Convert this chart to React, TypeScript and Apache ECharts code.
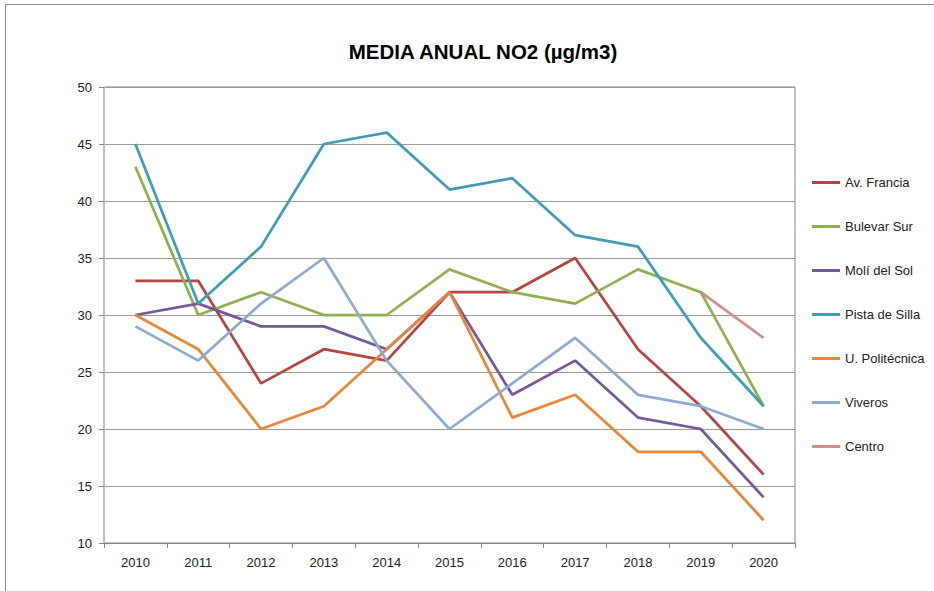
import React, { useEffect, useRef } from "react";
import * as echarts from "echarts";

const years = ["2010", "2011", "2012", "2013", "2014", "2015", "2016", "2017", "2018", "2019", "2020"];
const avFrancia = [33, 33, 24, 27, 26, 32, 32, 35, 27, 22, 16];
const bulevarSur = [43, 30, 32, 30, 30, 34, 32, 31, 34, 32, 22];
const moliDelSol = [30, 31, 29, 29, 27, 32, 23, 26, 21, 20, 14];
const pistaDeSilla = [45, 31, 36, 45, 46, 41, 42, 37, 36, 28, 22];
const uPolitecnica = [30, 27, 20, 22, 27, 32, 21, 23, 18, 18, 12];
const viveros = [29, 26, 31, 35, 26, 20, 24, 28, 23, 22, 20];
const centro = [null, null, null, null, null, null, null, null, null, 32, 28];

const seriesDefs = [
  { name: "Av. Francia", data: avFrancia, color: "#B44643" },
  { name: "Bulevar Sur", data: bulevarSur, color: "#8EB14F" },
  { name: "Molí del Sol", data: moliDelSol, color: "#765A98" },
  { name: "Pista de Silla", data: pistaDeSilla, color: "#3F9DB8" },
  { name: "U. Politécnica", data: uPolitecnica, color: "#E8873A" },
  { name: "Viveros", data: viveros, color: "#8FAAD2" },
  { name: "Centro", data: centro, color: "#D38E8C" },
];

export default function App() {
  const ref = useRef<HTMLDivElement>(null);
  useEffect(() => {
    if (!ref.current) return;
    const chart = echarts.init(ref.current, null, { renderer: "svg" });
    const font = "'Liberation Sans', Arial, sans-serif";
    chart.setOption({
      animation: false,
      backgroundColor: "#ffffff",
      textStyle: { fontFamily: font },
      title: {
        text: "MEDIA ANUAL NO2 (µg/m3)",
        left: 478,
        textAlign: "center",
        top: 36,
        textStyle: { fontFamily: font, fontSize: 20.5, fontWeight: "bold", color: "#000" },
      },
      graphic: [
        {
          type: "rect",
          shape: { x: 5.5, y: 4.5, width: 1000, height: 700 },
          style: { fill: "none", stroke: "#8c8c8c", lineWidth: 1 },
          silent: true,
        },
      ],
      legend: {
        orient: "vertical",
        left: 812,
        top: 176,
        padding: 0,
        icon: "rect",
        itemWidth: 28,
        itemHeight: 3,
        itemGap: 31,
        textStyle: { fontFamily: font, fontSize: 13, color: "#222" },
        data: seriesDefs.map((s) => s.name),
      },
      grid: {
        left: 104,
        top: 87,
        right: 139,
        bottom: 48,
        show: true,
        borderColor: "#868686",
        borderWidth: 1,
      },
      xAxis: {
        type: "category",
        data: years,
        boundaryGap: true,
        axisLine: { lineStyle: { color: "#868686" } },
        axisTick: { show: true, length: 5, interval: 0, lineStyle: { color: "#868686" } },
        axisLabel: { fontFamily: font, fontSize: 13, color: "#222", margin: 13 },
      },
      yAxis: {
        type: "value",
        min: 10,
        max: 50,
        interval: 5,
        axisLine: { show: true, lineStyle: { color: "#bfbfbf" } },
        axisTick: { show: true, length: 5, lineStyle: { color: "#868686" } },
        axisLabel: { fontFamily: font, fontSize: 13, color: "#222", margin: 12 },
        splitLine: { lineStyle: { color: "#999999" } },
      },
      series: seriesDefs.map((s) => ({
        name: s.name,
        type: "line",
        data: s.data,
        symbol: "none",
        color: s.color,
        lineStyle: { width: 2.75, color: s.color },
        connectNulls: false,
      })),
    });
    return () => chart.dispose();
  }, []);
  return (
    <div
      ref={ref}
      style={{ position: "fixed", left: 0, top: 0, width: 934, height: 591 }}
    />
  );
}
